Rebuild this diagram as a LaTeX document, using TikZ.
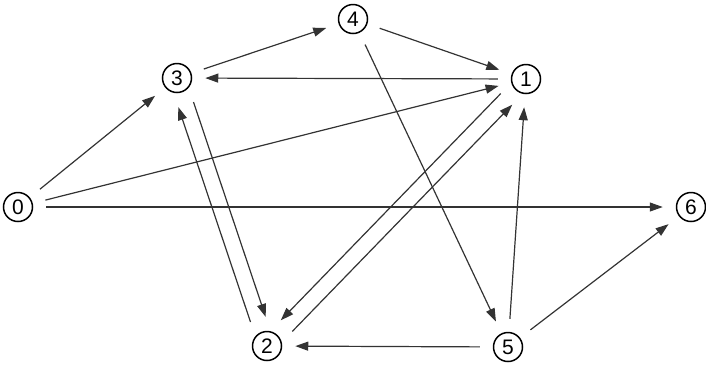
\documentclass[tikz,border=0pt]{standalone}
\usepackage{fontspec}
\setmainfont{Liberation Sans}
\usetikzlibrary{calc, arrows.meta}

\begin{document}
\begin{tikzpicture}[x=1pt, y=-1pt,
	vertex/.style={draw, circle, line width=1.5pt, minimum size=29pt, inner sep=0pt, font=\fontsize{21}{21}\selectfont},
	arc/.style={-{Triangle[length=13pt, width=9pt]}, line width=1.2pt, black!80, shorten <=13pt, shorten >=13pt},
	twin/.style={arc, shorten <=28pt, shorten >=28pt}]

	\useasboundingbox (0,0) rectangle (706,368);

		% nodes %
		\node[vertex] (n0) at (18,207) {0};
		\node[vertex] (n3) at (177,78) {3};
		\node[vertex] (n4) at (353,19) {4};
		\node[vertex] (n1) at (526,79) {1};
		\node[vertex] (n6) at (691,207) {6};
		\node[vertex] (n2) at (267,346) {2};
		\node[vertex] (n5) at (508,347) {5};

		% edges %
		\draw[arc] (n0) -- (n3);
		\draw[arc] (n0) -- (n1);
		\draw[arc] (n0) -- (n6);
		\draw[arc] (n3) -- (n4);
		\draw[arc] (n4) -- (n1);
		\draw[arc] (n1) -- (n3);
		\draw[arc] (n4) -- (n5);
		\draw[arc] (n5) -- (n1);
		\draw[arc] (n5) -- (n6);
		\draw[arc] (n5) -- (n2);

		% edges both ways, side by side %
		\draw[twin] ($(n3)!8pt!90:(n2)$) -- ($(n2)!8pt!-90:(n3)$);
		\draw[twin] ($(n2)!8pt!90:(n3)$) -- ($(n3)!8pt!-90:(n2)$);
		\draw[twin] ($(n1)!8pt!-90:(n2)$) -- ($(n2)!8pt!90:(n1)$);
		\draw[twin] ($(n2)!8pt!-90:(n1)$) -- ($(n1)!8pt!90:(n2)$);

\end{tikzpicture}
\end{document}
